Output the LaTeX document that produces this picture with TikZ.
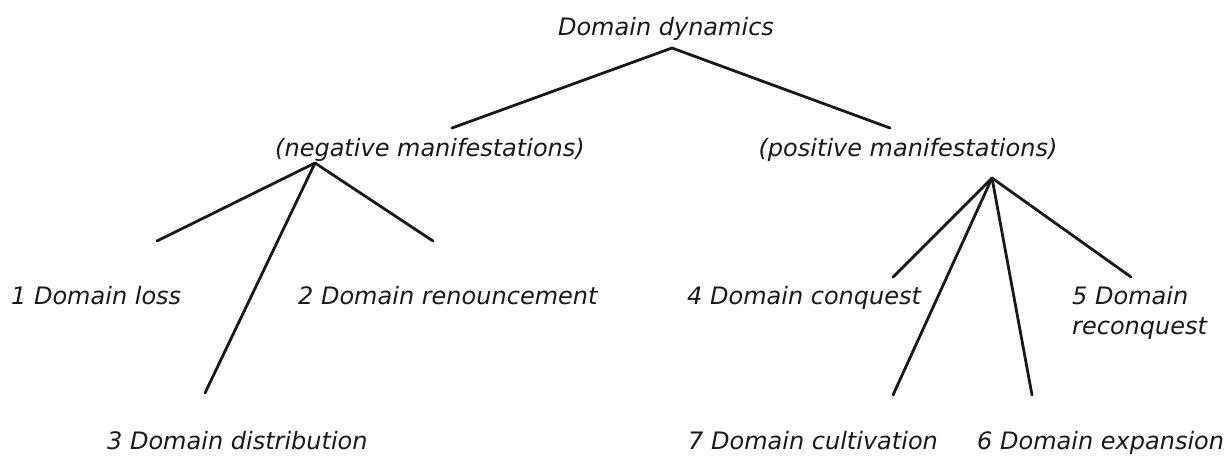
\documentclass[tikz,border=0pt]{standalone}
\usepackage{fontspec}
\setmainfont{DejaVu Sans}
\begin{document}
\begin{tikzpicture}[x=1pt,y=-1pt,
  lbl/.style={inner sep=0pt,font=\fontsize{24}{30}\selectfont\itshape,text=black!90},
  edge/.style={line width=2.8pt,black!90,line cap=round}]
\useasboundingbox (0,0) rectangle (1230,456);
% labels
\node[lbl,anchor=base] (root) at (666,35) {Domain dynamics};
\node[lbl,anchor=base] (neg) at (430,156) {(negative manifestations)};
\node[lbl,anchor=base] (pos) at (908,156) {(positive manifestations)};
\node[lbl,anchor=base west] (l1) at (11,304) {1 Domain loss};
\node[lbl,anchor=base west] (l2) at (298,304) {2 Domain renouncement};
\node[lbl,anchor=base west] (l3) at (107,449) {3 Domain distribution};
\node[lbl,anchor=base west] (l4) at (687,304) {4 Domain conquest};
\node[lbl,anchor=base west,align=left] (l5) at (1072,334) {5 Domain\\reconquest};
\node[lbl,anchor=base west] (l7) at (688,449) {7 Domain cultivation};
\node[lbl,anchor=base west] (l6) at (977,449) {6 Domain expansion};
% connector end points
\coordinate (rootA) at (672,48);
\coordinate (negT) at (452,128);
\coordinate (posT) at (890,128);
\coordinate (negA) at (315,163);
\coordinate (e1) at (157,241);
\coordinate (e2) at (433,241);
\coordinate (e3) at (205,393);
\coordinate (posA) at (992,178);
\coordinate (e4) at (893,277);
\coordinate (e5) at (1131,277);
\coordinate (e7) at (893,395);
\coordinate (e6) at (1032,395);
% connectors
\draw[edge] (rootA) -- (negT);
\draw[edge] (rootA) -- (posT);
\draw[edge] (negA) -- (e1);
\draw[edge] (negA) -- (e2);
\draw[edge] (negA) -- (e3);
\draw[edge] (posA) -- (e4);
\draw[edge] (posA) -- (e5);
\draw[edge] (posA) -- (e7);
\draw[edge] (posA) -- (e6);
\end{tikzpicture}
\end{document}
